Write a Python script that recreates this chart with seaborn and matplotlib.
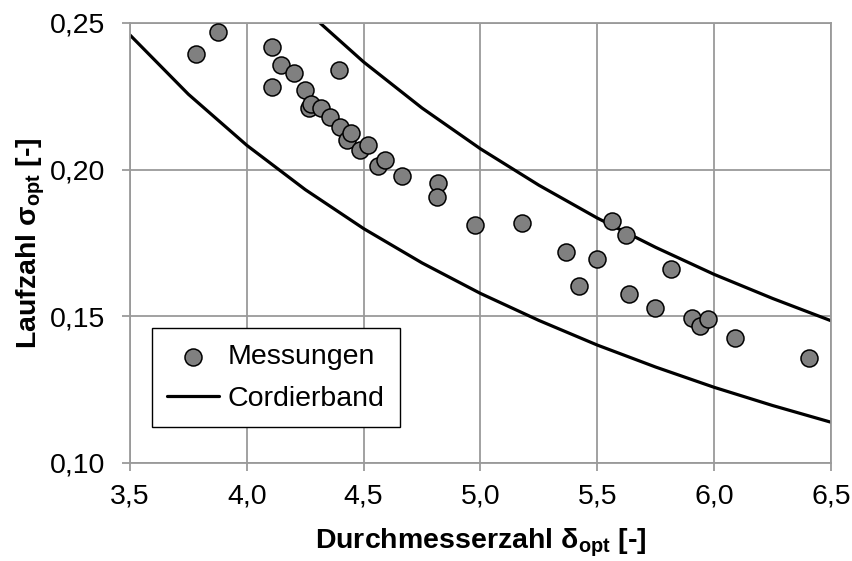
import matplotlib
matplotlib.use("Agg")
import matplotlib.pyplot as plt
import pandas as pd
import seaborn as sns
from matplotlib.ticker import FuncFormatter, FixedLocator

# Measured optimum points (diameter number delta, speed number sigma)
delta_mess = [3.783, 3.877, 4.108, 4.108, 4.145, 4.200, 4.395, 4.250, 4.264, 4.274,
              4.318, 4.357, 4.397, 4.428, 4.447, 4.485, 4.517, 4.563, 4.591, 4.662,
              4.818, 4.815, 4.977, 5.176, 5.366, 5.423, 5.497, 5.561, 5.623, 5.634,
              5.747, 5.815, 5.907, 5.939, 5.972, 6.091, 6.407]
sigma_mess = [0.2394, 0.2468, 0.2417, 0.2281, 0.2357, 0.2330, 0.2340, 0.2270, 0.2210, 0.2224,
              0.2210, 0.2181, 0.2147, 0.2102, 0.2125, 0.2068, 0.2085, 0.2014, 0.2032, 0.1980,
              0.1955, 0.1907, 0.1810, 0.1819, 0.1720, 0.1602, 0.1697, 0.1825, 0.1778, 0.1576,
              0.1527, 0.1661, 0.1493, 0.1468, 0.1491, 0.1425, 0.1357]

# Cordier band: lower and upper boundary
cordier_lower_delta = [3.5, 3.75, 4.0, 4.25, 4.5, 4.75, 5.0, 5.25, 5.5, 5.75, 6.0, 6.25, 6.5]
cordier_lower_sigma = [0.2459, 0.2257, 0.2083, 0.1932, 0.1799, 0.1682, 0.1578, 0.1486,
                       0.1402, 0.1327, 0.1258, 0.1196, 0.1139]
cordier_upper_delta = [4.25, 4.5, 4.75, 5.0, 5.25, 5.5, 5.75, 6.0, 6.25, 6.5]
cordier_upper_sigma = [0.2545, 0.2367, 0.2210, 0.2071, 0.1947, 0.1835, 0.1735, 0.1643,
                       0.1561, 0.1485]

x_ticks = [3.5, 4.0, 4.5, 5.0, 5.5, 6.0, 6.5]
y_ticks = [0.10, 0.15, 0.20, 0.25]

sns.set_theme(style="whitegrid")
plt.rcParams["font.family"] = ["Liberation Sans", "DejaVu Sans"]
plt.rcParams["mathtext.fontset"] = "custom"
plt.rcParams["mathtext.rm"] = "Liberation Sans"
plt.rcParams["mathtext.it"] = "Liberation Sans:italic"
plt.rcParams["mathtext.bf"] = "Liberation Sans:bold"
plt.rcParams["text.color"] = "black"
plt.rcParams["axes.labelcolor"] = "black"

FS = 20.5
GRID = "#9a9a9a"

fig = plt.figure(figsize=(8.53, 5.61), dpi=100)
fig.patch.set_facecolor("white")
ax = fig.add_axes([130 / 853, 1 - 463 / 561, 701 / 853, 440 / 561])
ax.set_facecolor("white")

df_mess = pd.DataFrame({"delta": delta_mess, "sigma": sigma_mess})
df_low = pd.DataFrame({"delta": cordier_lower_delta, "sigma": cordier_lower_sigma})
df_up = pd.DataFrame({"delta": cordier_upper_delta, "sigma": cordier_upper_sigma})

sns.lineplot(data=df_low, x="delta", y="sigma", ax=ax, color="black", lw=2.3,
             label="Cordierband", zorder=2, sort=False)
sns.lineplot(data=df_up, x="delta", y="sigma", ax=ax, color="black", lw=2.3,
             label="_nolegend_", zorder=2, sort=False)
sns.scatterplot(data=df_mess, x="delta", y="sigma", ax=ax, s=150, color="#808080",
                edgecolor="black", linewidth=1.1, label="Messungen", zorder=3)

ax.set_xlim(3.5, 6.5)
ax.set_ylim(0.10, 0.25)
ax.xaxis.set_major_locator(FixedLocator(x_ticks))
ax.yaxis.set_major_locator(FixedLocator(y_ticks))
ax.xaxis.set_major_formatter(FuncFormatter(lambda v, p: f"{v:.1f}".replace(".", ",")))
ax.yaxis.set_major_formatter(FuncFormatter(lambda v, p: f"{v:.2f}".replace(".", ",")))

ax.grid(True, color=GRID, lw=1.3)
for sp in ax.spines.values():
    sp.set_visible(True)
    sp.set_color(GRID)
    sp.set_linewidth(1.3)

ax.tick_params(axis="both", which="major", direction="out", length=6, width=1.3,
               color=GRID, labelsize=FS, labelcolor="black")
ax.tick_params(axis="x", pad=9, bottom=True)
ax.tick_params(axis="y", pad=12, left=True)

ax.set_xlabel(r"Durchmesserzahl δ$_{\mathbf{opt}}$ [-]", fontsize=FS, fontweight="bold",
              labelpad=12, color="black")
ax.set_ylabel(r"Laufzahl σ$_{\mathbf{opt}}$ [-]", fontsize=FS, fontweight="bold",
              labelpad=2, color="black")

handles, labels = ax.get_legend_handles_labels()
order = [labels.index("Messungen"), labels.index("Cordierband")]
leg = ax.legend([handles[i] for i in order], [labels[i] for i in order],
                loc="upper left", bbox_to_anchor=(0.031, 0.306), fontsize=FS,
                frameon=True, fancybox=False, framealpha=1, edgecolor="black",
                handlelength=1.8, handletextpad=0.3, labelspacing=0.55,
                borderpad=0.55, borderaxespad=0, labelcolor="black")
leg.get_frame().set_linewidth(1.0)

fig.savefig("out.png", dpi=100)
